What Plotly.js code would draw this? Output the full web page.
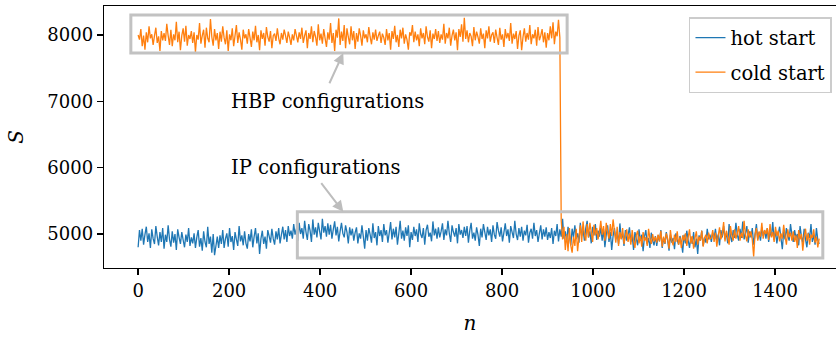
<!DOCTYPE html>
<html>
<head>
<meta charset="utf-8">
<script src="https://cdn.plot.ly/plotly-3.0.1.min.js"></script>
<style>html,body{margin:0;padding:0;overflow:hidden;background:#fff}</style>
</head>
<body>
<div id="chart" style="width:836px;height:338px"></div>
<script>
// sampling step of the Monte Carlo index n
const nStep = 3;

// hot start: S values for n = 0, 3, 6, ..., 1497
const hotS = [
4800,5060,4900,5080,4840,4990,5110,4880,5010,4790,5070,4930,4850,5120,4960,4830,5030,4880,5090,4780,
4990,4880,5130,4920,4810,5040,4870,5000,4760,5070,4950,4850,5030,4910,4800,4990,4880,5090,4820,4950,
4860,5010,4790,4950,5060,4810,4940,4750,5040,4880,4800,5110,4850,4960,4720,5000,4680,4820,4960,4790,
4980,4850,5060,4790,4930,5010,4810,5090,4880,4970,4760,5030,4920,4820,5120,4890,4980,4830,5040,4860,
4780,5000,4890,5070,4800,4960,5090,4860,5010,4700,4930,5050,4850,4960,4780,5060,4970,4870,5080,4930,
4840,5040,4920,5090,4860,4990,5110,4920,5060,4880,5120,4970,5050,4930,5150,4990,5080,4900,5170,5000,
5090,4930,5200,5030,4910,5150,5050,4880,5220,4990,5100,4950,5170,5040,4920,5230,5020,5120,4960,5160,
4990,5140,4930,5070,5190,4980,5110,4890,5040,5170,5010,4950,5130,5030,4860,5100,4980,5080,4900,5020,
5100,4860,5010,4930,5130,4960,4780,5060,4900,5090,4990,4870,5160,4940,5030,4830,5120,4970,5060,4880,
5150,4980,5060,4870,5020,5180,4920,5080,4950,5110,4840,5010,5200,4930,5050,4900,5100,4970,5130,4800,
5030,4910,5110,4970,5070,4880,5160,5000,4940,5090,4840,5060,5140,4960,5020,4890,5190,4980,5080,4930,
5100,4950,5040,5160,4910,5070,4980,5200,5010,4880,5130,5030,4960,5090,4860,5150,4990,5060,4940,5110,
4970,5120,4870,5050,5170,4930,5020,4900,5100,4990,4820,5080,4950,5150,5030,4910,5110,4980,5070,4880,
5130,4990,4930,5180,5050,4960,5100,4890,5020,5160,4970,5070,4870,5120,5030,4940,5200,5000,4910,5090,
4960,5110,4900,5050,4980,5140,4870,5020,5080,4930,5170,4970,5060,4880,5010,5130,4920,5070,4960,5100,
4910,5030,4940,5090,4850,5050,4970,5150,4890,5070,4960,5230,4930,5040,4880,5110,4980,4830,5080,4950,
5130,4930,5010,4870,5170,4970,5070,4900,5090,5200,4950,5040,4860,5110,4980,5150,4910,5050,4960,5100,
4900,5070,4800,4990,5130,4880,5030,4760,4970,5090,4920,5020,4850,5160,4930,5010,4820,5060,4900,4990,
5100,4880,4980,4760,5030,4930,4830,5070,4900,4990,4740,4960,5060,4850,4940,4790,5020,4900,4830,4970,
4820,4980,4890,5060,4790,4940,4850,5030,4900,4750,4990,4870,4940,4770,5010,4910,4840,4970,4890,4720,
4990,4860,5050,4910,4790,4960,4850,5030,4800,4930,4700,4980,4900,5050,4820,4950,4870,5080,4920,4990,
4880,5020,4940,5080,4900,4990,4830,5060,4950,5120,4920,5020,4860,5150,4970,4880,5060,4940,5170,4990,
4900,5080,4940,5190,4920,5010,5120,4870,5040,4950,5090,4840,4990,5150,4920,5030,4900,5100,4970,5060,
4930,5090,4880,5040,4960,5180,4910,5050,4860,5000,5110,4940,4770,5040,4920,5090,4970,4900,5150,4990,
4880,5060,4940,5000,4830,5120,4960,4870,5080,4920,4800,5020,4940,5150,4880,4990,4840,5090,4910,4850
];

// cold start: S values for n = 0, 3, 6, ..., 1497
const coldS = [
8000,7930,8090,7830,7990,7780,8040,7890,8130,7950,8010,7850,7990,8110,7880,7980,7760,8060,7920,8030,
7910,8170,7990,7850,8080,7830,8010,7920,8200,7890,8050,7770,7990,8100,7900,8140,7840,8000,7940,8060,
7880,8040,7740,8000,7930,8180,7870,7990,8080,7810,8110,7950,7890,8240,7970,7840,8090,7920,8030,7790,
8050,7900,8130,7960,7860,8070,7760,8010,7920,8100,7830,7990,8150,7880,8040,7930,7780,8080,7950,8010,
7870,8090,7960,7820,8050,7920,8140,7890,8000,7770,8070,7940,8030,7840,8120,7970,7900,8060,7800,7990,
8020,7910,8100,7950,7860,8030,7930,8080,7990,7880,8050,7960,7850,8010,7920,8090,7990,7890,8040,7940,
8110,7880,7990,8070,7800,8030,7940,8130,7890,8060,7970,7840,8160,7920,8020,7870,8090,7950,7820,8040,
7930,8180,7880,8030,7760,8080,7960,8250,7850,8050,7910,8150,7800,8100,7970,7860,8130,7920,8060,7790,
8030,7900,8100,7990,7840,8070,7950,8010,7890,8120,7970,7860,8040,7930,8080,7910,7990,8050,7880,8020,
7960,7850,8090,7920,8030,7780,8060,7940,8140,7890,8000,7820,8080,7950,8110,7870,8010,7930,7780,8040,
7990,8150,7890,8050,7920,8010,7830,8100,7950,8030,7860,8130,7970,7900,8070,7800,8020,7940,8090,7910,
8060,7880,8010,7930,8170,7870,8030,7950,8110,7840,7990,8080,7920,8040,7770,8090,7970,8160,7900,8260,
7940,8070,7890,8030,7980,7830,8120,7920,8050,7970,7870,8100,7940,8020,7800,8070,7950,8130,7900,8000,
8040,7880,8080,7960,7850,8110,7930,8010,7820,8090,7950,8030,7910,8180,7870,8020,7940,8060,7790,7990,
8070,7770,7970,8100,7900,8030,7930,8150,7860,8010,7950,8080,7840,8120,7920,7990,8090,7890,8040,7810,
8030,7920,8130,7950,8190,7860,8050,7980,8230,7960,5200,4920,5110,4760,5000,4740,5090,4830,4720,4960,
4820,5080,4740,4950,5130,4880,5190,4990,4900,5150,4950,5170,5030,4880,5140,4980,5090,4920,5040,5200,
4990,5120,4900,5170,5030,4930,5150,4970,5220,5050,4870,5110,4820,5030,4920,5090,4850,4970,5070,4880,
5010,4840,5060,4900,4790,4980,5050,4860,4970,4810,5030,4900,4950,4820,5080,4930,4850,5000,4890,4960,
4870,4990,4890,5050,4810,4960,4860,5010,4930,4780,5060,4900,4830,4990,4880,5040,4840,4950,4790,4980,
4900,5010,4820,4950,5070,4860,4970,4780,4940,5040,4840,4960,4900,5050,4810,4940,4990,4860,5020,4920,
4940,5060,4880,5020,4810,4970,5100,4920,5000,5180,4890,5050,4950,4840,5120,4980,4900,5070,4930,5010,
5120,4900,5020,4940,5200,4980,4890,5070,4950,5040,4910,4660,4990,5090,4900,5040,4960,5170,4930,5060,
5000,5090,4910,5150,4950,5030,4880,5110,4970,5050,4890,5010,4930,5140,4970,4840,5070,4950,5020,4900,
5040,4880,4980,4790,5060,4920,5000,4750,4960,5080,4900,5010,4840,4990,4940,5070,4870,4960,4800,4930
];

const seriesNames = ["hot start", "cold start"];
const seriesColors = ["#1f77b4", "#ff7f0e"];

// highlight boxes [x0, x1, y0, y1] and annotations
const hbpBox = [-16, 943, 7730, 8300];
const ipBox = [350, 1505, 4640, 5335];
const labelText = ["HBP configurations", "IP configurations"];
const labelPos = [[200, 7000], [200, 6000]];
const arrowTail = [[419, 7250], [400, 5790]];
const arrowHead = [[451, 7730], [451, 5335]];

const xTicks = [0, 200, 400, 600, 800, 1000, 1200, 1400];
const yTicks = [5000, 6000, 7000, 8000];

const nHot = hotS.map((_, i) => i * nStep);
const nCold = coldS.map((_, i) => i * nStep);

const FONT = "DejaVu Serif, serif";

const traces = [
  {x: nHot, y: hotS, type: "scatter", mode: "lines", name: seriesNames[0], legendgroup: "a",
   line: {color: seriesColors[0], width: 1.3, simplify: false}},
  {x: nCold, y: coldS, type: "scatter", mode: "lines", name: seriesNames[1], legendgroup: "b",
   line: {color: seriesColors[1], width: 1.3, simplify: false}}
];

function box(b) {
  return {type: "rect", xref: "x", yref: "y", x0: b[0], x1: b[1], y0: b[2], y1: b[3],
          line: {color: "#c2c2c2", width: 3}, fillcolor: "rgba(0,0,0,0)", layer: "above"};
}

const annotations = [];
for (let k = 0; k < 2; k++) {
  annotations.push({x: labelPos[k][0], y: labelPos[k][1], xref: "x", yref: "y",
    text: labelText[k], showarrow: false, xanchor: "left", yanchor: "middle",
    font: {family: FONT, size: 19.5, color: "#000"}});
  annotations.push({x: arrowHead[k][0], y: arrowHead[k][1], xref: "x", yref: "y",
    ax: arrowTail[k][0], ay: arrowTail[k][1], axref: "x", ayref: "y",
    text: "", showarrow: true, arrowhead: 2, arrowsize: 1.1, arrowwidth: 2,
    arrowcolor: "#bdbdbd", standoff: 0, startstandoff: 0});
}

const layout = {
  width: 836, height: 338,
  margin: {l: 104, r: 0, t: 6, b: 70},
  paper_bgcolor: "#fff", plot_bgcolor: "#fff",
  font: {family: FONT, size: 18, color: "#000"},
  showlegend: true,
  legend: {x: 0.9945, y: 0.958, xanchor: "right", yanchor: "top",
    bgcolor: "#fff", bordercolor: "#cccccc", borderwidth: 1.5,
    font: {family: FONT, size: 19.5, color: "#000"}, itemwidth: 30,
    tracegroupgap: 6, traceorder: "grouped"},
  xaxis: {range: [-75, 1534], tickvals: xTicks, ticktext: xTicks.map(String),
    showgrid: false, zeroline: false, showline: true, linecolor: "#000", linewidth: 1.3,
    mirror: true, ticks: "outside", ticklen: 6, tickwidth: 1.3, tickcolor: "#000",
    tickfont: {family: FONT, size: 18},
    title: {text: "<i>n</i>", font: {family: FONT, size: 20}, standoff: 16}},
  yaxis: {range: [4488, 8437], tickvals: yTicks, ticktext: yTicks.map(String),
    showgrid: false, zeroline: false, showline: true, linecolor: "#000", linewidth: 1.3,
    ticks: "outside", ticklen: 6, tickwidth: 1.3, tickcolor: "#000",
    tickfont: {family: FONT, size: 18},
    title: {text: "<i>S</i>", font: {family: FONT, size: 20}, standoff: 18}},
  shapes: [box(hbpBox), box(ipBox)],
  annotations: annotations
};

Plotly.newPlot("chart", traces, layout, {displayModeBar: false, staticPlot: true});
</script>
</body>
</html>
